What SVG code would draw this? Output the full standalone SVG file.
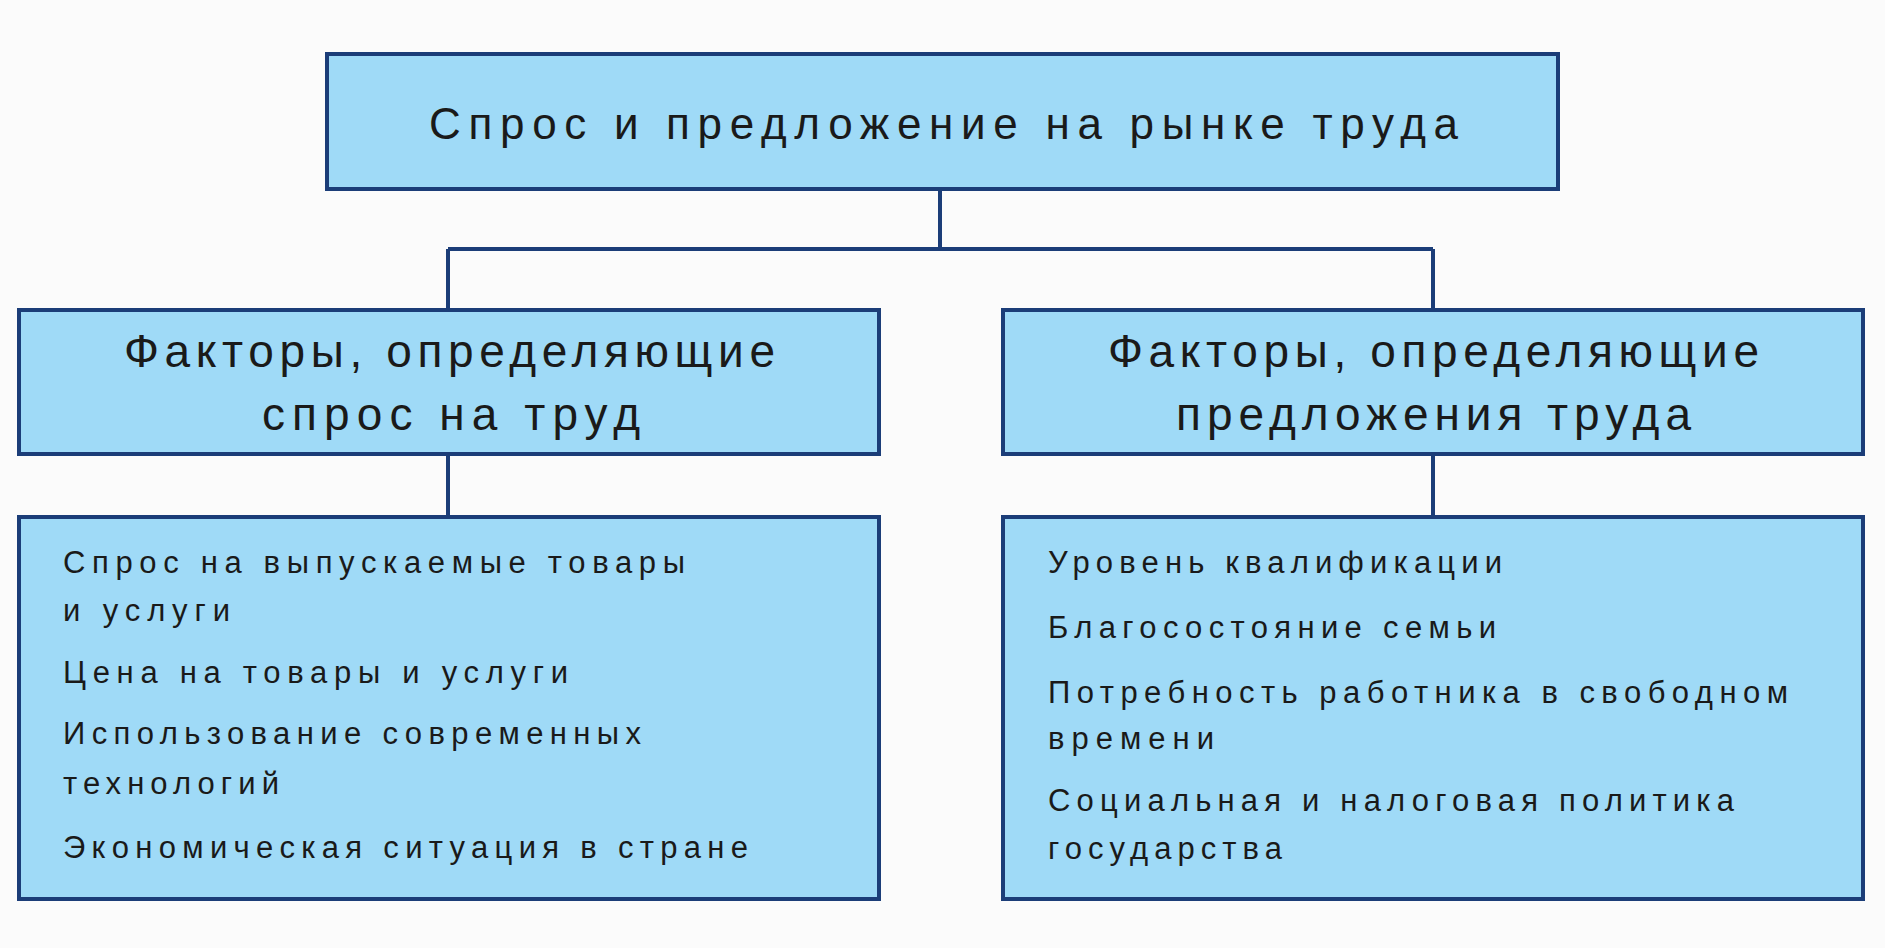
<svg xmlns="http://www.w3.org/2000/svg" width="1885" height="948" viewBox="0 0 1885 948">
<style>
.box{fill:#9fdaf7;stroke:#1b3d78;stroke-width:4}
.ln{stroke:#1b3d78;stroke-width:4;fill:none}
text{font-family:"Liberation Sans",Arial,sans-serif;fill:#1a1a1a}
.t{font-size:44px;text-anchor:start}
.m{font-size:46px}
.s{font-size:31px}
</style>
<rect width="1885" height="948" fill="#fbfbfb"/>
<g id="connectors">
<path class="ln" d="M940 189V249M448 249H1433M448 249V310M1433 249V310M448 454V517M1433 454V517"/>
</g>
<g id="top"><rect class="box" x="327" y="54" width="1231" height="135"/>
<text class="t" x="429" y="139" textLength="1029" lengthAdjust="spacing">Спрос и предложение на рынке труда</text></g>
<g id="midL"><rect class="box" x="19" y="310" width="860" height="144"/>
<text class="m" x="124" y="367" textLength="651" lengthAdjust="spacing">Факторы, определяющие</text>
<text class="m" x="262" y="430" textLength="378" lengthAdjust="spacing">спрос на труд</text></g>
<g id="midR"><rect class="box" x="1003" y="310" width="860" height="144"/>
<text class="m" x="1108" y="367" textLength="651" lengthAdjust="spacing">Факторы, определяющие</text>
<text class="m" x="1176" y="430" textLength="515" lengthAdjust="spacing">предложения труда</text></g>
<g id="botL"><rect class="box" x="19" y="517" width="860" height="382"/>
<text class="s" x="63" y="573" textLength="622" lengthAdjust="spacing">Спрос на выпускаемые товары</text>
<text class="s" x="63" y="621" textLength="167" lengthAdjust="spacing">и услуги</text>
<text class="s" x="63" y="683" textLength="505" lengthAdjust="spacing">Цена на товары и услуги</text>
<text class="s" x="63" y="744" textLength="578" lengthAdjust="spacing">Использование современных</text>
<text class="s" x="63" y="794" textLength="216" lengthAdjust="spacing">технологий</text>
<text class="s" x="63" y="858" textLength="685" lengthAdjust="spacing">Экономическая ситуация в стране</text></g>
<g id="botR"><rect class="box" x="1003" y="517" width="860" height="382"/>
<text class="s" x="1048" y="573" textLength="454" lengthAdjust="spacing">Уровень квалификации</text>
<text class="s" x="1048" y="638" textLength="448" lengthAdjust="spacing">Благосостояние семьи</text>
<text class="s" x="1048" y="703" textLength="740" lengthAdjust="spacing">Потребность работника в свободном</text>
<text class="s" x="1048" y="749" textLength="166" lengthAdjust="spacing">времени</text>
<text class="s" x="1048" y="811" textLength="686" lengthAdjust="spacing">Социальная и налоговая политика</text>
<text class="s" x="1048" y="859" textLength="234" lengthAdjust="spacing">государства</text></g>
</svg>
